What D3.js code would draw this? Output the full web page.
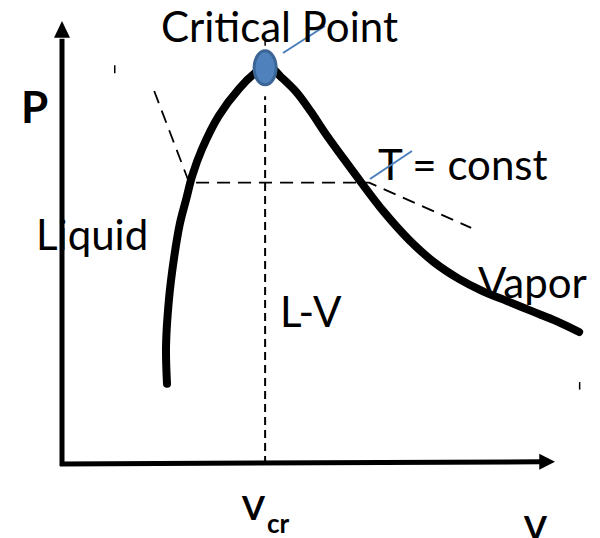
<!DOCTYPE html>
<html lang="en">
<head>
  <meta charset="utf-8" />
  <title>P-V diagram</title>
  <script src="https://cdn.jsdelivr.net/npm/d3@7"></script>
  <style>
    body { margin: 0; background: #fff; }
    text { font-family: Lato, "Open Sans", sans-serif; fill: #000; }
  </style>
</head>
<body>
<div id="chart"></div>
<script>
  // saturation dome, in (v, P) units
  var liquidBranch = [
    [2.13, 1.81], [2.11, 2.66], [2.17, 3.72], [2.27, 4.63], [2.39, 5.42],
    [2.52, 5.98], [2.64, 6.50], [2.84, 7.11], [3.18, 7.86], [3.59, 8.47],
    [3.94, 8.85], [4.16, 9.01]
  ];
  var vaporBranch = [
    [4.16, 9.01], [4.44, 8.74], [4.75, 8.40], [5.05, 7.95], [5.35, 7.45],
    [5.72, 6.88], [6.06, 6.37], [6.53, 5.69], [7.04, 5.06], [7.54, 4.56],
    [8.05, 4.18], [8.52, 3.91], [9.07, 3.66], [9.53, 3.45], [10.04, 3.22],
    [10.49, 2.98]
  ];
  // isotherm T = const
  var isotherm = [[1.87, 8.42], [2.58, 6.35], [6.23, 6.35], [8.30, 5.33]];
  var critical = {v: 4.12, p: 9.01};
  var vcrLineTop = 8.3;

  var width = 600, height = 538;

  var x = d3.scaleLinear().domain([0, 10]).range([62, 555]);
  var y = d3.scaleLinear().domain([0, 10]).range([464, 21]);

  var svg = d3.select("#chart").append("svg")
    .attr("width", width)
    .attr("height", height);

  var line = d3.line()
    .x(function(d) { return x(d[0]); })
    .y(function(d) { return y(d[1]); });

  // axes
  svg.append("line")
    .attr("x1", x(0)).attr("y1", y(0) + 2)
    .attr("x2", x(0)).attr("y2", y(9.6))
    .attr("stroke", "#000").attr("stroke-width", 5);
  svg.append("path")
    .attr("d", "M" + x(0) + "," + y(10) + "L" + (x(0) - 8) + "," + y(9.62) + "L" + (x(0) + 8) + "," + y(9.62) + "Z")
    .attr("fill", "#000");
  svg.append("line")
    .attr("x1", x(0) - 2).attr("y1", y(0))
    .attr("x2", x(9.7)).attr("y2", y(0.05))
    .attr("stroke", "#000").attr("stroke-width", 5);
  svg.append("path")
    .attr("d", "M" + x(10) + "," + y(0.05) + "L" + x(9.68) + "," + (y(0.05) - 8) + "L" + x(9.68) + "," + (y(0.05) + 8) + "Z")
    .attr("fill", "#000");

  // dashed lines
  svg.append("line")
    .attr("x1", x(critical.v)).attr("y1", y(0))
    .attr("x2", x(critical.v)).attr("y2", y(vcrLineTop))
    .attr("stroke", "#000").attr("stroke-width", 2)
    .attr("stroke-dasharray", "8,5");
  svg.append("path")
    .attr("d", line(isotherm))
    .attr("fill", "none")
    .attr("stroke", "#000").attr("stroke-width", 1.8)
    .attr("stroke-dasharray", "13,8");

  // dome
  var curve = d3.line()
    .x(function(d) { return x(d[0]); })
    .y(function(d) { return y(d[1]); })
    .curve(d3.curveCatmullRom.alpha(0.5));
  svg.append("path")
    .attr("d", curve(liquidBranch.concat(vaporBranch.slice(1))))
    .attr("fill", "none")
    .attr("stroke", "#000").attr("stroke-width", 8)
    .attr("stroke-linecap", "round")
    .attr("stroke-linejoin", "round");

  // little leftover handle marks
  [[1.07, 9.00, 0.18], [4.12, 9.6, 0.16], [10.5, 1.85, 0.17]].forEach(function(m) {
    svg.append("line")
      .attr("x1", x(m[0])).attr("y1", y(m[1]))
      .attr("x2", x(m[0])).attr("y2", y(m[1] - m[2]))
      .attr("stroke", "#000").attr("stroke-width", 1.5);
  });

  // critical point marker
  svg.append("ellipse")
    .attr("cx", x(critical.v)).attr("cy", y(critical.p) + 3)
    .attr("rx", 11).attr("ry", 17)
    .attr("fill", "#4f81bd")
    .attr("stroke", "#3a6595").attr("stroke-width", 3);

  // blue callout strokes
  svg.append("line")
    .attr("x1", 283).attr("y1", 53).attr("x2", 325).attr("y2", 26)
    .attr("stroke", "#4a7ebb").attr("stroke-width", 2);

  // labels
  var fs = "42px";
  svg.append("text").attr("x", 161).attr("y", 42)
    .style("font-size", fs).text("Critical Point");
  svg.append("text").attr("x", 21).attr("y", 123)
    .style("font-size", "44px").style("font-weight", "bold").text("P");
  svg.append("text").attr("x", 36).attr("y", 250)
    .style("font-size", fs).text("Liquid");
  svg.append("text").attr("x", 378).attr("y", 180)
    .style("font-size", fs).text("T = const");
  svg.append("line")
    .attr("x1", 370).attr("y1", 179).attr("x2", 412).attr("y2", 151)
    .attr("stroke", "#4a7ebb").attr("stroke-width", 2);
  svg.append("text").attr("x", 478).attr("y", 298)
    .style("font-size", fs).text("Vapor");
  svg.append("text").attr("x", 280).attr("y", 327)
    .style("font-size", fs).text("L-V");

  var vcr = svg.append("text").attr("x", 242).attr("y", 520)
    .style("font-weight", "bold").style("font-size", "33px");
  vcr.append("tspan").text("V");
  vcr.append("tspan").attr("dx", 2).attr("dy", 13).style("font-size", "26px").text("cr");

  svg.append("text").attr("x", 524).attr("y", 540)
    .style("font-size", "33px").style("font-weight", "bold").text("V");
</script>
</body>
</html>
